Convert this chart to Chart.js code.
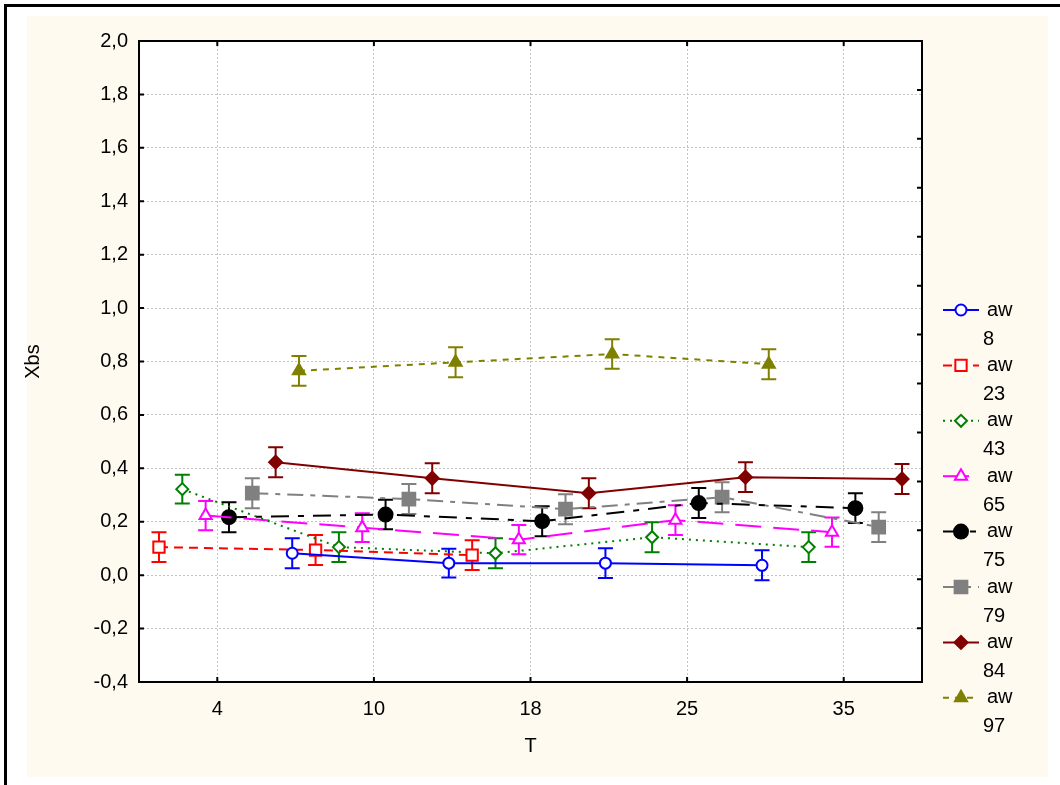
<!DOCTYPE html>
<html>
<head>
<meta charset="utf-8">
<script src="https://cdn.jsdelivr.net/npm/chart.js"></script>
<style>
  html, body { margin: 0; padding: 0; background: #fff; }
  #chart { display: block; }
</style>
</head>
<body>
<canvas id="chart" width="1060" height="785"></canvas>
<script>
// T categories on the x axis
const tLabels = ["4", "10", "18", "25", "35"];
const awLevels = ["8", "23", "43", "65", "75", "79", "84", "97"];

// means of Xbs per T (null = no point)
const aw8  = [null, 0.082, 0.045, 0.045, 0.037];
const aw23 = [0.105, 0.094, 0.075, null, null];
const aw43 = [0.322, 0.105, 0.082, 0.142, 0.105];
const aw65 = [0.223, 0.178, 0.133, 0.206, 0.161];
const aw75 = [0.217, 0.227, 0.202, 0.270, 0.251];
const aw79 = [0.307, 0.285, 0.247, 0.292, 0.180];
const aw84 = [0.423, 0.363, 0.307, 0.367, 0.360];
const aw97 = [0.765, 0.797, 0.828, 0.790, null];

// half widths of the error bars
const aw8Err  = [null, 0.056, 0.054, 0.056, 0.056];
const aw23Err = [0.056, 0.056, 0.056, null, null];
const aw43Err = [0.054, 0.056, 0.056, 0.056, 0.056];
const aw65Err = [0.055, 0.054, 0.055, 0.056, 0.055];
const aw75Err = [0.056, 0.055, 0.056, 0.056, 0.056];
const aw79Err = [0.056, 0.056, 0.056, 0.056, 0.056];
const aw84Err = [0.056, 0.056, 0.056, 0.056, 0.056];
const aw97Err = [0.056, 0.056, 0.055, 0.056, null];

const FONT = "'Liberation Sans', Arial, sans-serif";

const seriesMeans = [aw8, aw23, aw43, aw65, aw75, aw79, aw84, aw97];
const seriesErrs = [aw8Err, aw23Err, aw43Err, aw65Err, aw75Err, aw79Err, aw84Err, aw97Err];
const styles = [
  { color: "#0000ff", dash: [],              point: "circle",   r: 5.5, fill: "#ffffff" },
  { color: "#ff0000", dash: [9, 6],          point: "rect",     r: 8,   fill: "#ffffff" },
  { color: "#008000", dash: [2, 5],          point: "rectRot",  r: 6,   fill: "#ffffff" },
  { color: "#ff00ff", dash: [26, 12],        point: "triangle", r: 7,   fill: "#ffffff" },
  { color: "#000000", dash: [18, 9, 6, 9],   point: "circle",   r: 7,   fill: "#000000" },
  { color: "#808080", dash: [16, 7, 5, 7],   point: "rect",     r: 9,   fill: "#808080" },
  { color: "#800000", dash: [],              point: "rectRot",  r: 6.5, fill: "#800000" },
  { color: "#808000", dash: [6, 6],          point: "triangle", r: 7,   fill: "#808000" }
];

// Statistica spreads the groups inside each T category
const spread = 0.149;

const datasets = seriesMeans.map((vals, j) => {
  const st = styles[j];
  const pts = [];
  vals.forEach((v, i) => {
    if (v !== null) pts.push({ x: i + (j - 3.5) * spread, y: v, e: seriesErrs[j][i] });
  });
  return {
    label: "aw " + awLevels[j],
    data: pts,
    borderColor: st.color,
    backgroundColor: st.fill,
    borderWidth: 2,
    borderDash: st.dash,
    pointStyle: st.point,
    pointRadius: st.r,
    pointBorderWidth: 2,
    pointBackgroundColor: st.fill,
    pointBorderColor: st.color,
    tension: 0,
    showLine: true
  };
});

const pagePlugin = {
  id: "page",
  beforeDraw(chart) {
    const ctx = chart.ctx;
    const a = chart.chartArea;
    ctx.save();
    ctx.fillStyle = "#ffffff";
    ctx.fillRect(0, 0, chart.width, chart.height);
    ctx.fillStyle = "#fffaef";
    ctx.fillRect(27, 16, 1021, 761);
    ctx.strokeStyle = "#000";
    ctx.lineWidth = 3;
    ctx.beginPath();
    ctx.moveTo(5.5, chart.height);
    ctx.lineTo(5.5, 5.5);
    ctx.lineTo(chart.width, 5.5);
    ctx.stroke();
    ctx.fillStyle = "#ffffff";
    ctx.fillRect(a.left, a.top, a.right - a.left, a.bottom - a.top);
    ctx.restore();
  }
};

const errorBars = {
  id: "errorBars",
  beforeDatasetsDraw(chart) {
    const ctx = chart.ctx;
    const x = chart.scales.x, y = chart.scales.y;
    ctx.save();
    ctx.lineWidth = 2;
    chart.data.datasets.forEach(ds => {
      ctx.strokeStyle = ds.borderColor;
      ds.data.forEach(p => {
        const px = x.getPixelForValue(p.x);
        const hi = y.getPixelForValue(p.y + p.e);
        const lo = y.getPixelForValue(p.y - p.e);
        ctx.beginPath();
        ctx.moveTo(px, hi); ctx.lineTo(px, lo);
        ctx.moveTo(px - 7.5, hi); ctx.lineTo(px + 7.5, hi);
        ctx.moveTo(px - 7.5, lo); ctx.lineTo(px + 7.5, lo);
        ctx.stroke();
      });
    });
    ctx.restore();
  }
};

const frame = {
  id: "frame",
  afterDraw(chart) {
    const ctx = chart.ctx;
    const a = chart.chartArea;
    const x = chart.scales.x, y = chart.scales.y, y2 = chart.scales.y2;
    ctx.save();
    ctx.strokeStyle = "#000";
    ctx.lineWidth = 2;
    ctx.strokeRect(a.left, a.top, a.right - a.left, a.bottom - a.top);
    ctx.beginPath();
    x.ticks.forEach(t => {
      const px = x.getPixelForValue(t.value);
      ctx.moveTo(px, a.bottom); ctx.lineTo(px, a.bottom - 5);
      ctx.moveTo(px, a.top); ctx.lineTo(px, a.top + 5);
    });
    y.ticks.forEach(t => {
      const py = y.getPixelForValue(t.value);
      ctx.moveTo(a.left, py); ctx.lineTo(a.left + 5, py);
    });
    y2.ticks.forEach(t => {
      const py = y2.getPixelForValue(t.value);
      ctx.moveTo(a.right, py); ctx.lineTo(a.right - 5, py);
    });
    ctx.stroke();

    // legend: sample line, marker, "aw" and the level below it
    chart.data.datasets.forEach((ds, j) => {
      const ly = 310 + j * 55.4;
      ctx.strokeStyle = ds.borderColor;
      ctx.lineWidth = 2;
      ctx.setLineDash(ds.borderDash);
      ctx.beginPath();
      ctx.moveTo(943, ly); ctx.lineTo(979, ly);
      ctx.stroke();
      ctx.setLineDash([]);
      ctx.fillStyle = ds.pointBackgroundColor;
      Chart.helpers.drawPoint(ctx, {
        pointStyle: ds.pointStyle, radius: ds.pointRadius, rotation: 0, borderWidth: 2
      }, 961, ly);
      const parts = ds.label.split(" ");
      ctx.fillStyle = "#000";
      ctx.font = "20px " + FONT;
      ctx.textAlign = "left";
      ctx.textBaseline = "middle";
      ctx.fillText(parts[0], 987, ly);
      ctx.fillText(parts[1], 983, ly + 29);
    });
    ctx.restore();
  }
};

new Chart(document.getElementById("chart"), {
  type: "scatter",
  data: { datasets },
  options: {
    responsive: false,
    animation: false,
    devicePixelRatio: 1,
    layout: { padding: { top: 41, right: 138, bottom: 0, left: 0 } },
    plugins: { legend: { display: false }, tooltip: { enabled: false } },
    scales: {
      x: {
        type: "linear",
        min: -0.5,
        max: 4.5,
        afterBuildTicks: s => { s.ticks = tLabels.map((t, i) => ({ value: i })); },
        afterFit: s => { s.height = 103; },
        grid: { color: "#c4c4c4", lineWidth: 1, drawTicks: false },
        border: { display: false, dash: [2, 2] },
        ticks: {
          callback: v => tLabels[v],
          padding: 15,
          color: "#000",
          font: { family: FONT, size: 20 },
          maxRotation: 0
        },
        title: {
          display: true, text: "T", color: "#000",
          font: { family: FONT, size: 20 }, padding: { top: 0, bottom: 27 }
        }
      },
      y: {
        min: -0.4,
        max: 2.0,
        afterFit: s => { s.width = 139; },
        grid: { color: "#c4c4c4", lineWidth: 1, drawTicks: false },
        border: { display: false, dash: [2, 2] },
        ticks: {
          stepSize: 0.2,
          padding: 11,
          color: "#000",
          font: { family: FONT, size: 20 },
          callback: v => (Math.abs(v) < 1e-9 ? 0 : v).toFixed(1).replace(".", ",")
        },
        title: {
          display: true, text: "Xbs", color: "#000",
          font: { family: FONT, size: 20 }, padding: { top: 21, bottom: 0 }
        }
      },
      y2: {
        position: "right",
        min: 0,
        max: 13.1,
        reverse: true,
        afterFit: s => { s.width = 0; },
        grid: { drawOnChartArea: false, drawTicks: false },
        border: { display: false },
        ticks: { display: false, stepSize: 1 }
      }
    }
  },
  plugins: [pagePlugin, errorBars, frame]
});
</script>
</body>
</html>
